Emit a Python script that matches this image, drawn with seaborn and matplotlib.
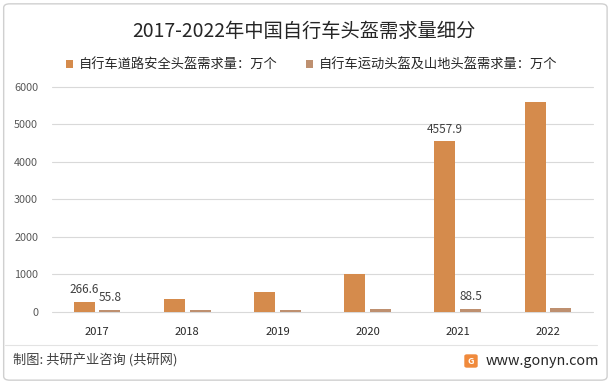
import pandas as pd
import matplotlib.pyplot as plt
import matplotlib.patches as mpatches
import seaborn as sns

# Données (unité : 万个)
annees = ["2017", "2018", "2019", "2020", "2021", "2022"]
route = [266.6, 355, 541, 1021, 4557.9, 5600]
sport = [55.8, 55, 60, 68, 88.5, 95]
series = ["自行车道路安全头盔需求量：万个", "自行车运动头盔及山地头盔需求量：万个"]
couleurs = ["#D58B4C", "#BE9070"]

df = pd.DataFrame({
    "annee": annees * 2,
    "valeur": route + sport,
    "serie": [series[0]] * len(annees) + [series[1]] * len(annees),
})

sns.set_theme(style="white")
plt.rcParams["font.family"] = ["Noto Sans CJK SC", "DejaVu Sans"]

fig = plt.figure(figsize=(6.12, 3.84), dpi=100)
ax = fig.add_axes([0.085, 0.1875, 0.884, 0.586])

sns.barplot(data=df, x="annee", y="valeur", hue="serie", hue_order=series,
            palette=couleurs, width=0.57, gap=0.18, saturation=1,
            linewidth=0, ax=ax)

ax.set_ylim(0, 6000)
ax.set_yticks(range(0, 6001, 1000))
ax.yaxis.grid(True, color="#D9D9D9", linewidth=0.8, clip_on=False)
ax.set_axisbelow(True)
for s in ["top", "right", "left", "bottom"]:
    ax.spines[s].set_visible(False)
ax.set_xlabel("")
ax.set_ylabel("")
ax.tick_params(axis="y", labelsize=7.8, labelcolor="#595959", length=0, pad=10)
ax.tick_params(axis="x", labelsize=8, labelcolor="#262626", length=0, pad=11)

# étiquettes seulement pour 2017 et 2021
lab0 = ["266.6", "", "", "", "4557.9", ""]
lab1 = ["55.8", "", "", "", "88.5", ""]
ax.bar_label(ax.containers[0], labels=lab0, fontsize=8.5, color="#404040", padding=4)
ax.bar_label(ax.containers[1], labels=lab1, fontsize=8.5, color="#404040", padding=4)

# légende
handles = [mpatches.Patch(color=c, linewidth=0) for c in couleurs]
ax.legend(handles, series, loc="center left", ncol=2, frameon=False, fontsize=9.5,
          handlelength=0.55, handleheight=0.55, handletextpad=0.45,
          columnspacing=2.1, borderaxespad=0, borderpad=0,
          bbox_to_anchor=(66 / 612, 1 - 65 / 384), bbox_transform=fig.transFigure)

fig.text(304 / 612, 1 - 31 / 384, "2017-2022年中国自行车头盔需求量细分", ha="center", va="center",
         fontsize=13.9, color="#262626")

# cadre et pied de page
fig.patches.append(mpatches.FancyBboxPatch((0.006, 0.01), 0.986, 0.98, boxstyle="round,pad=0,rounding_size=0.01",
                                           transform=fig.transFigure, fill=False, edgecolor="#D0D0D0", linewidth=1))
fig.lines.append(plt.Line2D([0.008, 0.976], [1 - 345 / 384] * 2, transform=fig.transFigure,
                            color="#E3E3E3", linewidth=0.8))
fig.text(0.021, 1 - 361 / 384, "制图: 共研产业咨询 (共研网)", ha="left", va="center",
         fontsize=9.5, color="#404040")
fig.patches.append(mpatches.FancyBboxPatch((465 / 612, 1 - 367 / 384), 12 / 612, 12 / 384,
                                           boxstyle="round,pad=0,rounding_size=0.003",
                                           transform=fig.transFigure, color="#F08A3C"))
fig.text(471 / 612, 1 - 361 / 384, "G", ha="center", va="center", fontsize=6.5,
         color="white", fontweight="bold")
fig.text(486 / 612, 1 - 361 / 384, "www.gonyn.com", ha="left", va="center",
         fontsize=10.3, color="#262626")

fig.savefig("out.png", dpi=100)
